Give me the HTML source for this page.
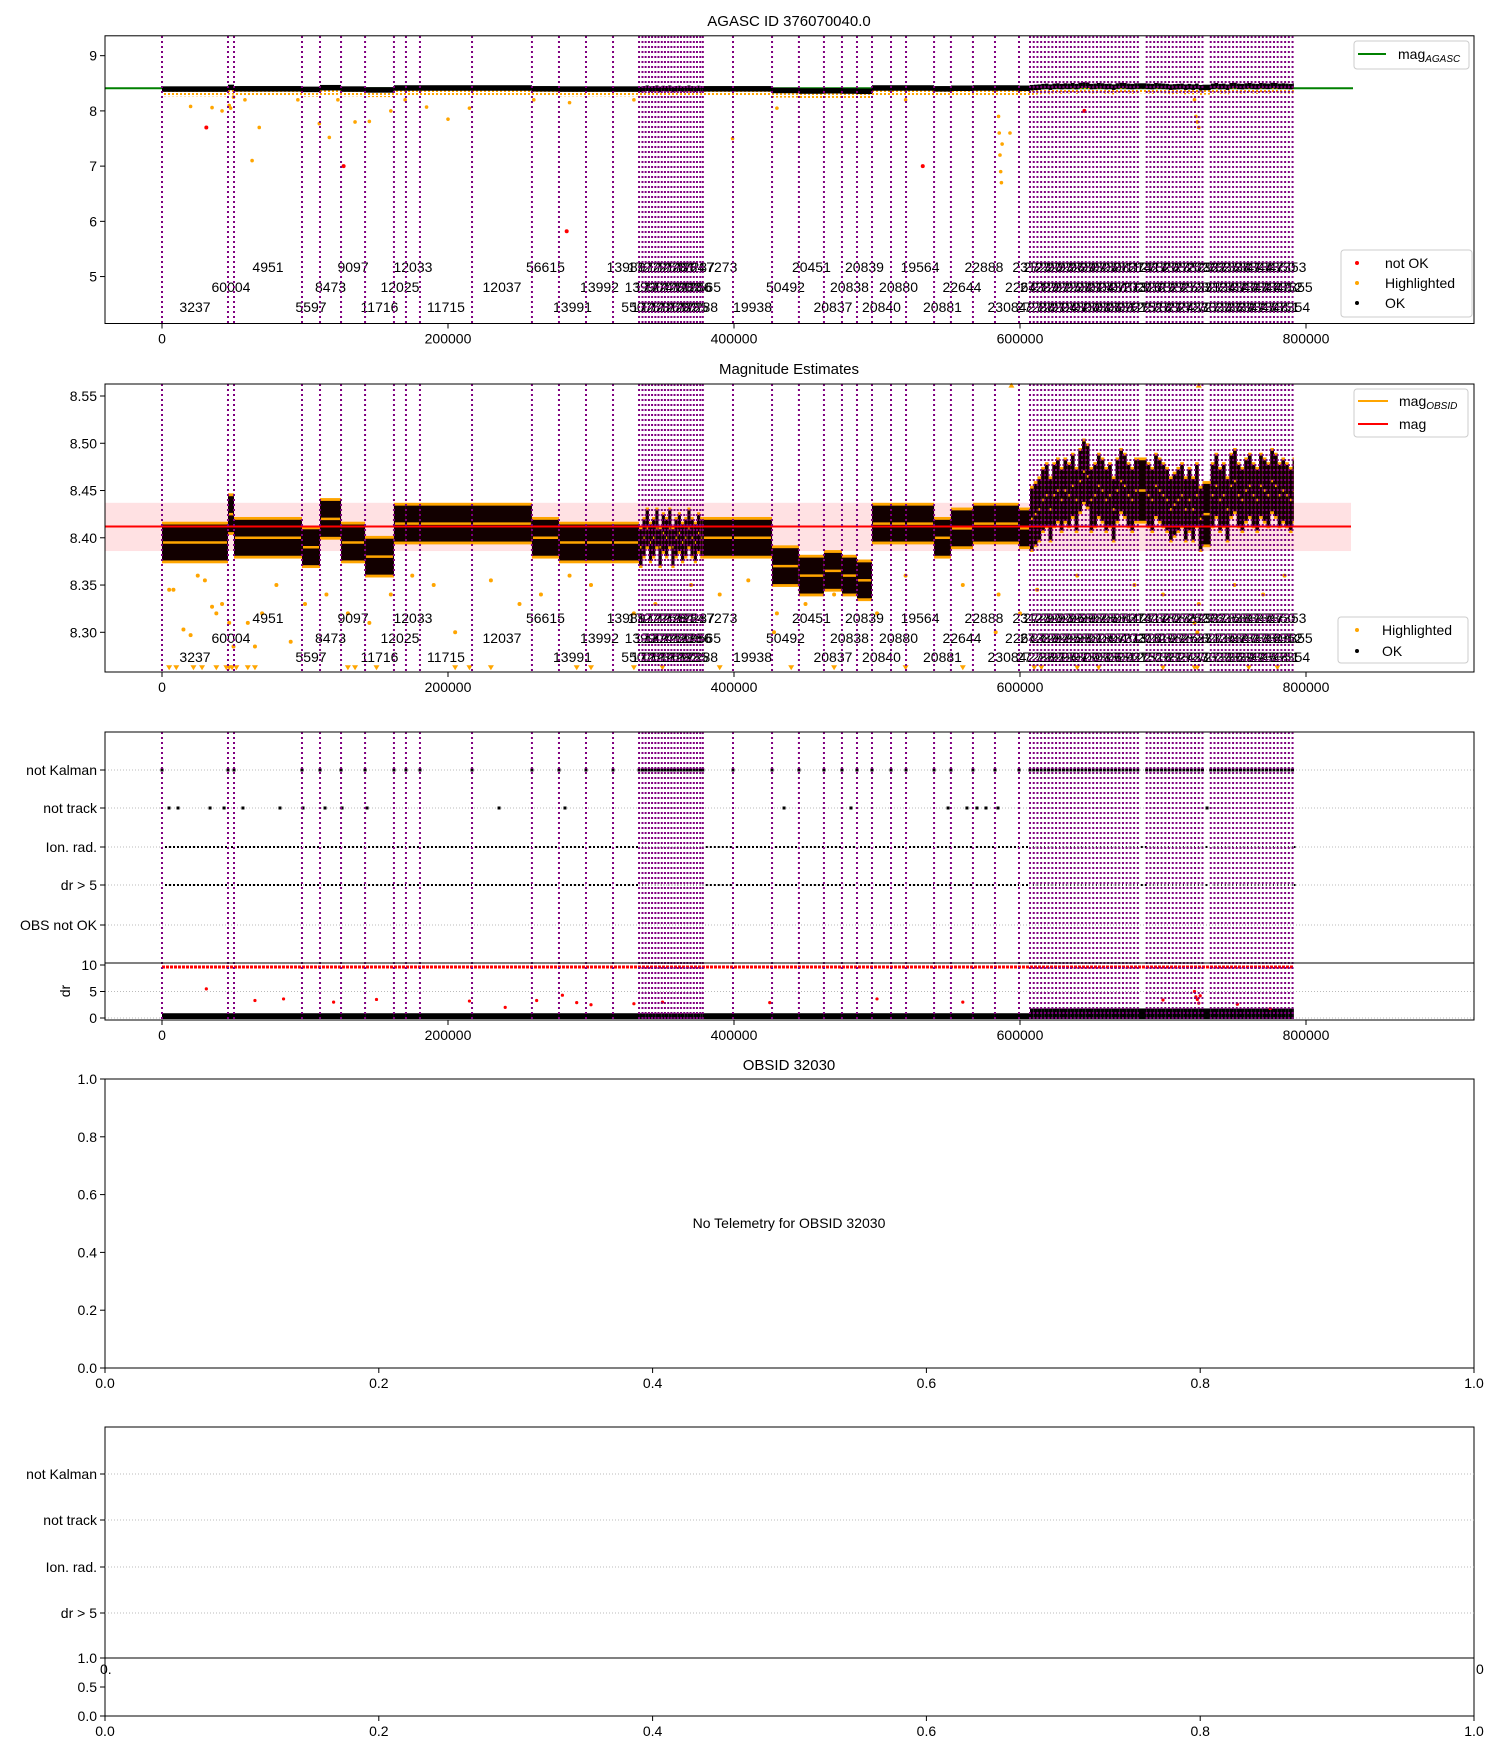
<!DOCTYPE html>
<html><head><meta charset="utf-8"><style>
body{margin:0;background:#fff}
svg{display:block;font-family:"Liberation Sans","DejaVu Sans",sans-serif}
</style></head><body>
<svg id="fig" width="1500" height="1750" viewBox="0 0 1500 1750" xmlns="http://www.w3.org/2000/svg">
<defs>
<pattern id="odots" width="4" height="3" patternUnits="userSpaceOnUse"><rect x="0" y="0" width="2" height="2" fill="orange"/></pattern>
</defs>
</svg>
<script>
const obsStart=[0,46150,50350,97900,110500,125200,142000,162200,170600,180400,216800,258700,277600,296500,315400,
333600,336000,338200,340500,342700,345000,347200,349500,351700,354000,356200,358400,360700,362900,365200,367400,369600,371900,374100,376400,378200,
399300,426600,445400,462900,475500,486000,496500,509800,520300,539900,551700,567100,582500,599300,
607000,609600,612200,614800,617400,620000,622600,625200,627800,630400,633000,635600,638200,640800,643400,646000,648600,651200,653800,656400,659000,661600,664200,666800,669400,672000,674600,677200,679800,682400,
688600,691200,693800,696400,699000,701600,704200,706800,709400,712000,714600,717200,719800,722400,725000,727600,
733400,736000,738600,741200,743800,746400,749000,751600,754200,756800,759400,762000,764600,767200,769800,772400,775000,777600,780200,782800,785400,788000,790600];
const obsEnd=791500;
const obsMag=[8.395,8.425,8.40,8.39,8.42,8.395,8.38,8.415,8.415,8.415,8.415,8.40,8.395,8.395,8.395,
8.39,8.40,8.41,8.395,8.40,8.41,8.39,8.405,8.40,8.41,8.39,8.40,8.405,8.395,8.40,8.41,8.40,8.395,8.405,8.40,8.40,
8.40,8.37,8.36,8.365,8.36,8.355,8.415,8.415,8.415,8.40,8.41,8.415,8.415,8.41,
8.42,8.425,8.43,8.44,8.445,8.43,8.445,8.45,8.44,8.45,8.445,8.455,8.44,8.46,8.47,8.465,8.44,8.445,8.455,8.45,8.44,8.445,8.43,8.45,8.46,8.455,8.445,8.44,8.45,8.45,
8.445,8.44,8.455,8.45,8.445,8.44,8.43,8.435,8.44,8.445,8.43,8.44,8.43,8.445,8.42,8.425,
8.445,8.455,8.44,8.445,8.43,8.455,8.46,8.445,8.44,8.45,8.455,8.445,8.44,8.455,8.45,8.445,8.46,8.455,8.445,8.45,8.445,8.44,8.45];
const obsLabels=["3237","60004","4951","5597","8473","9097","11716","12025","12033","11715","12037","56615","13991","13992","13989",
"55075","13990","17272","17273","17274","17275","17276","17277","17278","17279","17280","17281","17282","17283","17284","17285","17286","17287","17288","19565","17273",
"19938","50492","20451","20837","20838","20839","20840","20880","19564","20881","22644","22888","23084","22643",
"23123","27288","27289","27290","27291","27292","27293","27294","27295","27296","27297","27298","27299","27300","27301","27302","27303","27304","27305","27306","27307","27308","27309","27310","27311","27312","27313","27314","27315","27316",
"27317","27318","27319","27320","27321","27322","27323","27324","27325","27326","27327","27328","27329","27330","27331","27332",
"27333","27334","27335","27336","27337","27338","27339","27340","27341","27342","27343","27344","27345","27346","27347","27348","27349","27350","27351","27352","27353","27354","27355"];
const p1OrangeT=[20000,35000,42000,47000,48000,50000,58000,63000,68000,95000,110000,117000,123000,135000,145000,160000,170000,185000,200000,215000,260000,285000,330000,399000,430000,520000,585000,585500,586000,586500,587000,587500,593000,722000,723000,724000,725000];
const p1OrangeV=[8.08,8.06,8.0,8.1,8.05,8.25,8.2,7.1,7.7,8.2,7.77,7.52,8.2,7.8,7.81,8.0,8.2,8.07,7.85,8.05,8.2,8.15,8.2,7.5,8.05,8.2,7.9,7.6,7.2,6.9,6.7,7.4,7.6,8.2,7.9,7.8,7.7];
const p1RedT=[31000,127000,283000,532000,645000];
const p1RedV=[7.7,7.0,5.82,7.0,8.0];
const p2OrangeT=[5000,8000,15000,20000,25000,30000,35000,38000,42000,47000,50000,60000,65000,70000,80000,90000,100000,115000,130000,145000,160000,175000,190000,205000,230000,250000,265000,285000,300000,330000,345000,370000,390000,410000,428000,430000,450000,470000,500000,520000,560000,583000,585000,600000,612000,640000,680000,700000,722000,724000,725000,750000,770000,785000];
const p2OrangeV=[8.345,8.345,8.303,8.297,8.36,8.355,8.327,8.32,8.33,8.31,8.285,8.31,8.285,8.32,8.35,8.29,8.33,8.34,8.32,8.31,8.34,8.36,8.35,8.30,8.355,8.33,8.34,8.36,8.35,8.32,8.33,8.35,8.34,8.355,8.30,8.32,8.33,8.34,8.32,8.36,8.35,8.30,8.34,8.32,8.345,8.36,8.35,8.34,8.31,8.30,8.33,8.35,8.34,8.36];
const p2LowT=[5000,10000,22000,28000,38000,45000,47000,49000,52000,60000,65000,130000,135000,150000,205000,215000,230000,290000,300000,330000,350000,390000,440000,470000,520000,560000,610000,615000,640000,655000,700000,722000,724000,760000,780000];
const notTrackT=[4900,11200,33600,43400,56600,82500,98600,114000,125900,143400,235700,281800,435000,481800,549700,562900,569900,576200,584600,730800];
const drRedT=[31000,65000,85000,120000,150000,215000,240000,262000,280000,290000,300000,330000,350000,425000,500000,560000,700000,722000,723000,724000,725000,726000,752000,775000];
const drRedV=[5.5,3.3,3.6,3.0,3.5,3.2,2.0,3.3,4.3,2.9,2.5,2.7,3.0,2.9,3.6,3.0,3.4,5.0,4.0,3.5,2.8,4.2,2.6,1.8];

const NS="http://www.w3.org/2000/svg";
const svg=document.getElementById('fig');
function el(tag,attrs,parent,text){const e=document.createElementNS(NS,tag);for(const k in attrs)e.setAttribute(k,attrs[k]);if(text!==undefined)e.textContent=text;(parent||svg).appendChild(e);return e;}
const X=t=>162+t*286/200000;
const y1=v=>35.8+(9.36-v)/(9.36-4.15)*(323.5-35.8);
const y2=v=>384+(8.5627-v)/0.3047*288;
const yd=v=>1018-v*5.3;
const L=105,R=1474;
const obsEndOf=i=>i<obsStart.length-1?obsStart[i+1]:obsEnd;

function frame(name,top,bot){const r=el('rect',{x:L,y:top,width:R-L,height:bot-top,fill:'none',stroke:'#000','stroke-width':1});}
function ytick(y,label,name){const g=el('g',{});el('line',{x1:L-5,x2:L,y1:y,y2:y,stroke:'#000'},g);el('text',{x:L-8,y:y+5,'text-anchor':'end','font-size':14},g,label);}
function xtick(x,bot,label,name){const g=el('g',{});el('line',{x1:x,x2:x,y1:bot,y2:bot+5,stroke:'#000'},g);el('text',{x:x,y:bot+20,'text-anchor':'middle','font-size':14},g,label);}
function vlines(top,bot,name){const g=el('g',{});obsStart.forEach(t=>{el('line',{x1:X(t),x2:X(t),y1:top,y2:bot,stroke:'purple','stroke-width':2,'stroke-dasharray':'2,3'},g);});}
function labels(rows,name){const g=el('g',{});obsStart.forEach((t,i)=>{const xm=X((t+obsEndOf(i))/2);el('text',{x:xm,y:rows[i%3],'text-anchor':'middle','font-size':14},g,obsLabels[i]);});}
const xt=[0,200000,400000,600000,800000];

// ===== Panel 1 =====
let t1=el('text',{x:789,y:26,'text-anchor':'middle','font-size':15},svg,'AGASC ID 376070040.0');
let gA=el('g',{});
el('line',{x1:L,x2:1353,y1:y1(8.41),y2:y1(8.41),stroke:'green','stroke-width':2},gA);
let gO1=el('g',{});
obsStart.forEach((t,i)=>{const x0=X(t),x1=X(obsEndOf(i));const m=obsMag[i];
 el('rect',{x:x0,y:y1(m),width:x1-x0,height:y1(m-0.13)-y1(m),fill:'url(#odots)'},gO1);
 el('rect',{x:x0,y:y1(m+0.05),width:x1-x0,height:y1(m-0.05)-y1(m+0.05),fill:'#000'},gO1);});
p1OrangeT.forEach((t,i)=>{el('circle',{cx:X(t),cy:y1(p1OrangeV[i]),r:1.8,fill:'orange'},gO1);});
p1RedT.forEach((t,i)=>{el('circle',{cx:X(t),cy:y1(p1RedV[i]),r:2,fill:'red'},gO1);});
labels([312,292,272],'p1-obsid-labels');
vlines(36,323,'p1-obs-lines');
frame('p1-axes',35.8,323.5);
[5,6,7,8,9].forEach(v=>ytick(y1(v),String(v),'p1-ytick'));
xt.forEach(t=>xtick(X(t),323.5,String(t),'p1-xtick'));
let lg1=el('g',{});
el('rect',{x:1354,y:41,width:115,height:28,fill:'#fff',stroke:'#ccc',rx:3},lg1);
el('line',{x1:1358,x2:1386,y1:54,y2:54,stroke:'green','stroke-width':2},lg1);
let tt=el('text',{x:1398,y:59,'font-size':14},lg1,'mag');el('tspan',{'font-size':10,'font-style':'italic',dy:3},tt,'AGASC');
let lg2=el('g',{});
el('rect',{x:1341,y:250,width:131,height:67,fill:'#fff',stroke:'#ccc',rx:3},lg2);
[['red','not OK',263],['orange','Highlighted',283],['#000','OK',303]].forEach(d=>{el('circle',{cx:1357,cy:d[2],r:2,fill:d[0]},lg2);el('text',{x:1385,y:d[2]+5,'font-size':14},lg2,d[1]);});

// ===== Panel 2 =====
let t2=el('text',{x:789,y:374,'text-anchor':'middle','font-size':15},svg,'Magnitude Estimates');
let band=el('rect',{x:L,y:y2(8.437),width:1351-L,height:y2(8.386)-y2(8.437),fill:'#ffd9dc',opacity:0.8});
let gO2=el('g',{});
p2OrangeT.forEach((t,i)=>{el('circle',{cx:X(t),cy:y2(p2OrangeV[i]),r:2,fill:'orange'},gO2);});
p2LowT.forEach(t=>{const x=X(t),y=y2(8.262);el('path',{d:`M${x-3},${y-3}L${x+3},${y-3}L${x},${y+2}Z`,fill:'orange'},gO2);});
[594000,725000].forEach(t=>{const x=X(t),y=y2(8.562);el('path',{d:`M${x-3},${y+3}L${x+3},${y+3}L${x},${y-2}Z`,fill:'orange'},gO2);});
obsStart.forEach((t,i)=>{const x0=X(t),x1=X(obsEndOf(i));const m=obsMag[i];const h=t>600000?0.032:0.019;
 el('rect',{x:x0,y:y2(m+h+0.003),width:x1-x0,height:y2(m-h-0.003)-y2(m+h+0.003),fill:'orange'},gO2);
 el('rect',{x:x0,y:y2(m+h),width:x1-x0,height:y2(m-h)-y2(m+h),fill:'#120000'},gO2);
 el('line',{x1:x0+1,x2:x1-1,y1:y2(m),y2:y2(m),stroke:'orange','stroke-width':2.5},gO2);});
let ml=el('line',{x1:L,x2:1351,y1:y2(8.412),y2:y2(8.412),stroke:'red','stroke-width':2});
labels([662,643,623],'p2-obsid-labels');
vlines(384,672,'p2-obs-lines');
frame('p2-axes',384,672);
[8.30,8.35,8.40,8.45,8.50,8.55].forEach(v=>ytick(y2(v),v.toFixed(2),'p2-ytick'));
xt.forEach(t=>xtick(X(t),672,String(t),'p2-xtick'));
let lg3=el('g',{});
el('rect',{x:1354,y:389,width:114,height:48,fill:'#fff',stroke:'#ccc',rx:3},lg3);
el('line',{x1:1358,x2:1388,y1:401,y2:401,stroke:'orange','stroke-width':2},lg3);
let tt2=el('text',{x:1399,y:406,'font-size':14},lg3,'mag');el('tspan',{'font-size':10,'font-style':'italic',dy:3},tt2,'OBSID');
el('line',{x1:1358,x2:1388,y1:424,y2:424,stroke:'red','stroke-width':2},lg3);
el('text',{x:1399,y:429,'font-size':14},lg3,'mag');
let lg4=el('g',{});
el('rect',{x:1338,y:617,width:130,height:46,fill:'#fff',stroke:'#ccc',rx:3},lg4);
el('circle',{cx:1357,cy:630,r:2,fill:'orange'},lg4);el('text',{x:1382,y:635,'font-size':14},lg4,'Highlighted');
el('circle',{cx:1357,cy:651,r:2,fill:'#000'},lg4);el('text',{x:1382,y:656,'font-size':14},lg4,'OK');

// ===== Panel 3 =====
const flagRows=['not Kalman','not track','Ion. rad.','dr > 5','OBS not OK'];
const flagY=[770,808,847,885,925];
let g3=el('g',{});
flagY.forEach((y,i)=>{el('line',{x1:L,x2:R,y1:y,y2:y,stroke:'#bbb','stroke-dasharray':'1,2'},g3);ytick(y,flagRows[i],'flag-row-label');});
obsStart.forEach(t=>{el('rect',{x:X(t)-1.5,y:768.5,width:3,height:3,fill:'#000'},g3);});
obsStart.forEach((t,i)=>{const x0=X(t),x1=X(obsEndOf(i));const da=t<686000?'2,2':'2,9';
 [847,885].forEach(y=>el('line',{x1:x0+3,x2:x1,y1:y,y2:y,stroke:'#000','stroke-width':2,'stroke-dasharray':da},g3));});
notTrackT.forEach(t=>{el('rect',{x:X(t)-1.5,y:806.5,width:3,height:3,fill:'#000'},g3);});
let gd=el('g',{});
[0,5].forEach(v=>el('line',{x1:L,x2:R,y1:yd(v),y2:yd(v),stroke:'#bbb','stroke-dasharray':'1,2'},gd));
el('line',{x1:X(0),x2:X(obsEnd),y1:yd(10)+2,y2:yd(10)+2,stroke:'red','stroke-width':3,'stroke-dasharray':'3,1'},gd);
obsStart.forEach((t,i)=>{const x0=X(t),x1=X(obsEndOf(i));const h=t>600000?1.8:0.9;el('rect',{x:x0,y:yd(h),width:x1-x0,height:yd(0)-yd(h)+1,fill:'#000'},gd);});
drRedT.forEach((t,i)=>el('circle',{cx:X(t),cy:yd(drRedV[i]),r:1.6,fill:'red'},gd));
vlines(732,1020,'p3-obs-lines');
frame('p3-axes',732,1020);
let sep=el('line',{x1:L,x2:R,y1:963,y2:963,stroke:'#000'});
[0,5,10].forEach(v=>ytick(yd(v),String(v),'dr-ytick'));
let dl=el('text',{x:70,y:991,'font-size':14,'text-anchor':'middle',transform:'rotate(-90 70 991)'},svg,'dr');
xt.forEach(t=>xtick(X(t),1020,String(t),'p3-xtick'));

// ===== Panel 4 =====
let t4=el('text',{x:789,y:1070,'text-anchor':'middle','font-size':15},svg,'OBSID 32030');
frame('p4-axes',1079,1368);
const unitT=['0.0','0.2','0.4','0.6','0.8','1.0'];
unitT.forEach((s,i)=>{ytick(1368-i*0.2*289,s,'p4-ytick');xtick(L+i*0.2*(R-L),1368,s,'p4-xtick');});
let nt=el('text',{x:789,y:1228,'text-anchor':'middle','font-size':14},svg,'No Telemetry for OBSID 32030');

// ===== Panel 5 =====
frame('p5-axes',1427,1716);
const p5Y=[1474,1520,1567,1613];
p5Y.forEach((y,i)=>{el('line',{x1:L,x2:R,y1:y,y2:y,stroke:'#bbb','stroke-dasharray':'1,2'});ytick(y,flagRows[i],'p5-flag-label');});
let sep2=el('line',{x1:L,x2:R,y1:1658,y2:1658,stroke:'#000'});
[['0.0',1716],['0.5',1687],['1.0',1658]].forEach(d=>ytick(d[1],d[0],'p5-dr-ytick'));
unitT.forEach((s,i)=>xtick(L+i*0.2*(R-L),1716,s,'p5-xtick'));
let c1=el('text',{x:100,y:1674,'font-size':14},svg,'0.');
let c2=el('text',{x:1476,y:1674,'font-size':14},svg,'0');
</script>
</body></html>
